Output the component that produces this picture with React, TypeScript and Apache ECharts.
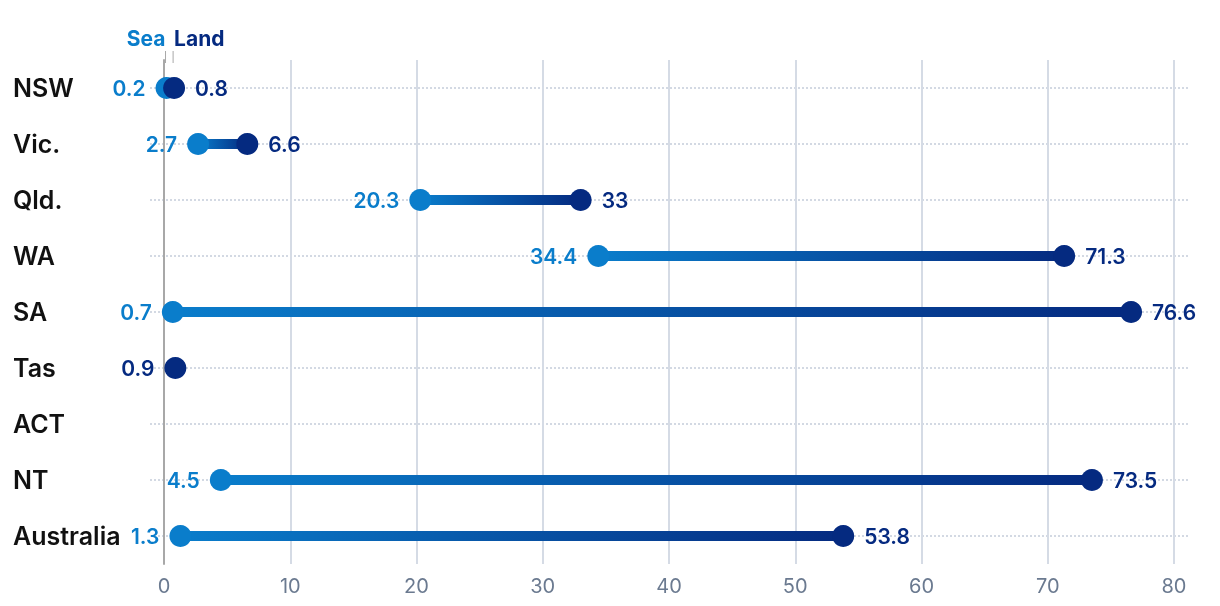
import React, { useEffect, useRef } from "react";
import * as echarts from "echarts";

const categories = ["NSW", "Vic.", "Qld.", "WA", "SA", "Tas", "ACT", "NT", "Australia"];
const seaValues: (number | null)[] = [0.2, 2.7, 20.3, 34.4, 0.7, null, null, 4.5, 1.3];
const landValues: (number | null)[] = [0.8, 6.6, 33, 71.3, 76.6, 0.9, null, 73.5, 53.8];
const xTicks = { min: 0, max: 80, interval: 10 };

const SEA = "#0a7dcb";
const LAND = "#052a80";
const FONT = "Inter, 'Noto Sans', sans-serif";

export default function App() {
  const ref = useRef<HTMLDivElement>(null);
  useEffect(() => {
    if (!ref.current) return;
    const chart = echarts.init(ref.current, undefined, { renderer: "svg" });

    const baseData = categories.map((_, i) => {
      const s = seaValues[i];
      const l = landValues[i];
      if (s != null && l != null) return Math.min(s, l);
      return "-";
    });
    const rangeData = categories.map((_, i) => {
      const s = seaValues[i];
      const l = landValues[i];
      if (s != null && l != null) return Math.abs(l - s);
      return "-";
    });
    const seaPoints: any[] = [];
    const landPoints: any[] = [];
    categories.forEach((_, i) => {
      const s = seaValues[i];
      const l = landValues[i];
      if (s != null) seaPoints.push({ value: [s, i] });
      if (l != null) {
        const item: any = { value: [l, i] };
        if (s == null) item.label = { position: "left" };
        landPoints.push(item);
      }
    });

    const labelStyle = {
      show: true,
      fontFamily: FONT,
      fontSize: 21,
      fontWeight: 600,
      distance: 10,
      formatter: (p: any) => String(p.value[0]),
    };

    chart.setOption({
      animation: false,
      textStyle: { fontFamily: FONT },
      grid: [
        { left: 164, right: 46, top: 60, bottom: 42 },
        { left: 150, right: 32, top: 88, bottom: 70 },
      ],
      xAxis: [
        {
          type: "value",
          gridIndex: 0,
          min: xTicks.min,
          max: xTicks.max,
          interval: xTicks.interval,
          axisLine: { show: false },
          axisTick: { show: false },
          axisLabel: { color: "#6b7a90", fontSize: 20, fontFamily: FONT, margin: 12 },
          splitLine: { show: true, lineStyle: { color: "#d5dbe5", width: 2 } },
        },
        {
          type: "value",
          gridIndex: 1,
          min: 0,
          max: 1,
          show: false,
          splitLine: { show: false },
        },
      ],
      yAxis: [
        {
          type: "category",
          gridIndex: 0,
          data: categories,
          inverse: true,
          axisLine: { show: true, lineStyle: { color: "#a8a8a8", width: 2 } },
          axisTick: { show: false },
          axisLabel: {
            align: "left",
            margin: 151,
            color: "#111111",
            fontSize: 25,
            fontWeight: 600,
            fontFamily: FONT,
            interval: 0,
          },
          splitLine: { show: false },
          z: 1,
        },
        {
          type: "category",
          gridIndex: 1,
          data: categories,
          inverse: true,
          boundaryGap: false,
          axisLine: { show: false },
          axisTick: { show: false, interval: 0 },
          axisLabel: { show: false, interval: 0 },
          splitLine: {
            show: true,
            interval: 0,
            lineStyle: { color: "#d3d9e3", width: 2, type: [2, 2] },
          },
        },
      ],
      series: [
        {
          type: "bar",
          xAxisIndex: 0,
          yAxisIndex: 0,
          stack: "range",
          data: baseData,
          barWidth: 10,
          itemStyle: { color: "rgba(0,0,0,0)" },
          silent: true,
          z: 2,
        },
        {
          type: "bar",
          xAxisIndex: 0,
          yAxisIndex: 0,
          stack: "range",
          data: rangeData,
          barWidth: 10,
          itemStyle: {
            color: new echarts.graphic.LinearGradient(0, 0, 1, 0, [
              { offset: 0, color: SEA },
              { offset: 1, color: LAND },
            ]),
          },
          z: 2,
        },
        {
          type: "scatter",
          name: "Sea",
          xAxisIndex: 0,
          yAxisIndex: 0,
          data: seaPoints,
          symbolSize: 22,
          itemStyle: { color: SEA, opacity: 1 },
          label: { ...labelStyle, position: "left", color: SEA },
          z: 3,
        },
        {
          type: "scatter",
          name: "Land",
          xAxisIndex: 0,
          yAxisIndex: 0,
          data: landPoints,
          symbolSize: 22,
          itemStyle: { color: LAND, opacity: 1 },
          label: { ...labelStyle, position: "right", color: LAND },
          z: 4,
        },
      ],
    });

    const s0 = seaValues[0] as number;
    const l0 = landValues[0] as number;
    const sx = chart.convertToPixel({ xAxisIndex: 0 }, s0) as number;
    const lx = chart.convertToPixel({ xAxisIndex: 0 }, l0) as number;
    chart.setOption({
      graphic: [
        {
          type: "text",
          x: sx - 1,
          y: 38,
          style: {
            text: "Sea",
            align: "right",
            verticalAlign: "middle",
            fill: SEA,
            font: `bold 21px ${FONT}`,
          },
        },
        {
          type: "text",
          x: lx,
          y: 38,
          style: {
            text: "Land",
            align: "left",
            verticalAlign: "middle",
            fill: LAND,
            font: `bold 21px ${FONT}`,
          },
        },
        {
          type: "line",
          shape: { x1: sx - 1, y1: 51, x2: sx - 1, y2: 63 },
          style: { stroke: "#a8a8a8", lineWidth: 1 },
        },
        {
          type: "line",
          shape: { x1: lx - 1, y1: 51, x2: lx - 1, y2: 63 },
          style: { stroke: "#a8a8a8", lineWidth: 1 },
        },
      ],
    });

    return () => chart.dispose();
  }, []);

  return (
    <div
      ref={ref}
      style={{ position: "fixed", left: 0, top: 0, width: 1220, height: 606 }}
    />
  );
}
